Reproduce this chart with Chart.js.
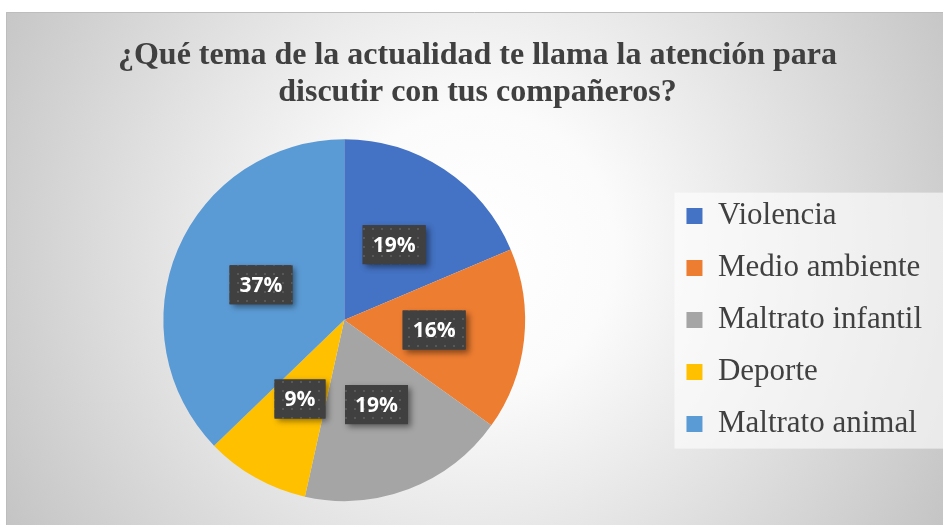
<!DOCTYPE html>
<html>
<head>
<meta charset="utf-8">
<script src="https://cdn.jsdelivr.net/npm/chart.js@4.4.1/dist/chart.umd.min.js"></script>
<style>
  html, body { margin: 0; padding: 0; background: #fff; }
  #c { display: block; }
</style>
</head>
<body>
<canvas id="c" width="943" height="525"></canvas>
<script>
// chart data
const titleLines = ['¿Qué tema de la actualidad te llama la atención para', 'discutir con tus compañeros?'];
const categories = ['Violencia', 'Medio ambiente', 'Maltrato infantil', 'Deporte', 'Maltrato animal'];
const responses = [8, 7, 8, 4, 16];
const sliceColors = ['#4472c4', '#ed7d31', '#a5a5a5', '#ffc000', '#5b9bd5'];

const textGray = '#404040';

// dotted texture for the label boxes
function makeDotPattern(ctx) {
    const tile = document.createElement('canvas');
    tile.width = 9;
    tile.height = 9;
    const t = tile.getContext('2d');
    t.fillStyle = '#404040';
    t.fillRect(0, 0, 9, 9);
    t.fillStyle = '#585858';
    t.fillRect(3, 3, 2, 2);
    return ctx.createPattern(tile, 'repeat');
}

// frame + gradient background, plus the light panel behind the legend
const backgroundPlugin = {
    id: 'frameBackground',
    beforeDraw(chart) {
        const { ctx, width, height } = chart;
        ctx.save();
        ctx.fillStyle = '#ffffff';
        ctx.fillRect(0, 0, width, height);
        const fx = 6, fy = 12;
        const g = ctx.createRadialGradient(475, 250, 0, 475, 250, 560);
        g.addColorStop(0, '#ffffff');
        g.addColorStop(0.25, '#fbfbfb');
        g.addColorStop(1, '#c2c2c2');
        ctx.fillStyle = g;
        ctx.fillRect(fx, fy, width - fx, height - fy);
        ctx.strokeStyle = '#bdbdbd';
        ctx.lineWidth = 1;
        ctx.beginPath();
        ctx.moveTo(fx + 0.5, height);
        ctx.lineTo(fx + 0.5, fy + 0.5);
        ctx.lineTo(width, fy + 0.5);
        ctx.stroke();

        const lg = chart.legend;
        if (lg && lg.legendHitBoxes && lg.legendHitBoxes.length) {
            const boxes = lg.legendHitBoxes;
            const first = boxes[0];
            const last = boxes[boxes.length - 1];
            const w = Math.max(...boxes.map(b => b.width));
            ctx.fillStyle = 'rgba(255,255,255,0.6)';
            ctx.fillRect(first.left - 12, first.top - 8, w + 33, last.top + last.height - first.top + 17);
        }
        ctx.restore();
    }
};

// percentage labels in dark boxes
const percentLabels = {
    id: 'percentLabels',
    afterDatasetsDraw(chart) {
        const { ctx } = chart;
        const meta = chart.getDatasetMeta(0);
        const data = chart.data.datasets[0].data;
        const total = data.reduce((s, v) => s + v, 0);
        const pattern = makeDotPattern(ctx);
        ctx.save();
        ctx.font = 'bold 21px "Open Sans", "Liberation Sans", sans-serif';
        ctx.textAlign = 'center';
        ctx.textBaseline = 'middle';
        meta.data.forEach((arc, i) => {
            const pos = arc.tooltipPosition();
            const label = Math.round(data[i] / total * 100) + '%';
            const w = ctx.measureText(label).width + 20;
            const h = 39;
            ctx.save();
            ctx.shadowColor = 'rgba(0,0,0,0.45)';
            ctx.shadowBlur = 6;
            ctx.shadowOffsetX = 3;
            ctx.shadowOffsetY = 3;
            ctx.fillStyle = '#404040';
            ctx.fillRect(pos.x - w / 2, pos.y - h / 2, w, h);
            ctx.restore();
            ctx.fillStyle = pattern;
            ctx.fillRect(pos.x - w / 2, pos.y - h / 2, w, h);
            ctx.fillStyle = '#ffffff';
            ctx.fillText(label, pos.x, pos.y + 1);
        });
        ctx.restore();
    }
};

new Chart(document.getElementById('c'), {
    type: 'pie',
    data: {
        labels: categories,
        datasets: [{
            data: responses,
            backgroundColor: sliceColors,
            borderWidth: 0
        }]
    },
    options: {
        responsive: false,
        animation: false,
        layout: {
            padding: { top: 12, left: 23, right: 11, bottom: 24 }
        },
        plugins: {
            title: {
                display: true,
                text: titleLines,
                color: textGray,
                font: { family: '"Liberation Serif", "Times New Roman", serif', size: 32, weight: 'bold', lineHeight: 1.16 },
                padding: { top: 25, bottom: 28 }
            },
            legend: {
                position: 'right',
                fullSize: false,
                labels: {
                    color: textGray,
                    boxWidth: 16,
                    boxHeight: 16,
                    padding: 21,
                    font: { family: '"Liberation Serif", "Times New Roman", serif', size: 31 }
                }
            },
            tooltip: { enabled: false }
        }
    },
    plugins: [backgroundPlugin, percentLabels]
});
</script>
</body>
</html>
